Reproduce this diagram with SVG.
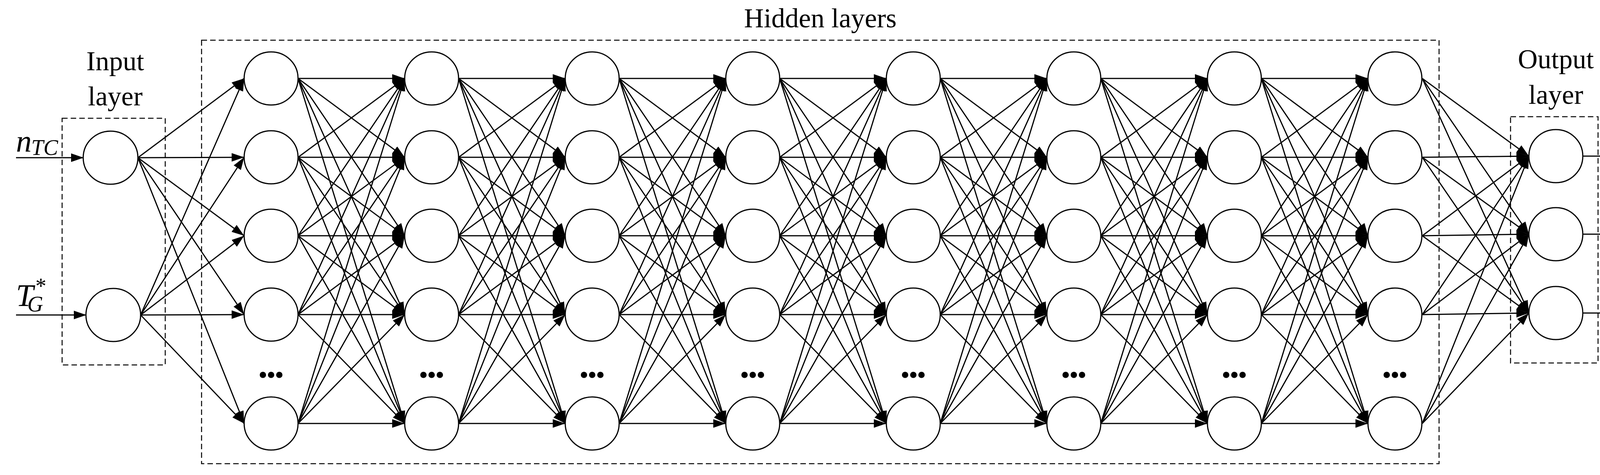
<svg xmlns="http://www.w3.org/2000/svg" xmlns:xlink="http://www.w3.org/1999/xlink" width="4334" height="1217" viewBox="0 0 4334 1217">
<style>
.n{fill:#fff;stroke:#000;stroke-width:3}
.c line{stroke:#000;stroke-width:3;marker-end:url(#ah)}
.box{fill:none;stroke:#000;stroke-width:2.5;stroke-dasharray:14 8}
.t{font-family:"Liberation Serif",serif;font-size:70px;fill:#000}
.i{font-family:"Liberation Serif",serif;font-style:italic;fill:#000}
.d{font-family:"Liberation Serif",serif;font-size:60px;font-weight:bold;fill:#000}
</style>
<defs>
<marker id="ah" markerUnits="userSpaceOnUse" markerWidth="34" markerHeight="24" refX="32" refY="11" orient="auto"><path d="M0,0 L32,11 L0,22 z" fill="#000"/></marker>
<g id="tr" stroke="#000" stroke-width="3" marker-end="url(#ah)">
<line x1="763" y1="201" x2="1036" y2="201"/><line x1="763" y1="201" x2="1036" y2="403"/><line x1="763" y1="201" x2="1036" y2="604"/><line x1="763" y1="201" x2="1036" y2="806"/><line x1="763" y1="201" x2="1036" y2="1085"/>
<line x1="763" y1="403" x2="1036" y2="201"/><line x1="763" y1="403" x2="1036" y2="403"/><line x1="763" y1="403" x2="1036" y2="604"/><line x1="763" y1="403" x2="1036" y2="806"/><line x1="763" y1="403" x2="1036" y2="1085"/>
<line x1="763" y1="604" x2="1036" y2="201"/><line x1="763" y1="604" x2="1036" y2="403"/><line x1="763" y1="604" x2="1036" y2="604"/><line x1="763" y1="604" x2="1036" y2="806"/><line x1="763" y1="604" x2="1036" y2="1085"/>
<line x1="763" y1="806" x2="1036" y2="201"/><line x1="763" y1="806" x2="1036" y2="403"/><line x1="763" y1="806" x2="1036" y2="604"/><line x1="763" y1="806" x2="1036" y2="806"/><line x1="763" y1="806" x2="1036" y2="1085"/>
<line x1="763" y1="1085" x2="1036" y2="201"/><line x1="763" y1="1085" x2="1036" y2="403"/><line x1="763" y1="1085" x2="1036" y2="604"/><line x1="763" y1="1085" x2="1036" y2="806"/><line x1="763" y1="1085" x2="1036" y2="1085"/>
</g>
</defs>
<rect width="4334" height="1217" fill="#fff"/>
<g id="frames">
<rect class="box" x="159" y="303" width="264" height="632"/>
<rect class="box" x="516" y="103" width="3168" height="1085"/>
<rect class="box" x="3867" y="299" width="224" height="631"/>
<text class="t" x="295" y="180" text-anchor="middle">Input</text>
<text class="t" x="295" y="270" text-anchor="middle">layer</text>
<text class="t" x="2100" y="70" text-anchor="middle">Hidden layers</text>
<text class="t" x="3983" y="175" text-anchor="middle">Output</text>
<text class="t" x="3983" y="266" text-anchor="middle">layer</text>
</g>
<g id="connectors" class="c">
<line x1="41" y1="404" x2="214" y2="404"/>
<line x1="41" y1="807" x2="221" y2="807"/>
<line x1="353" y1="404" x2="625" y2="201"/><line x1="353" y1="404" x2="625" y2="403"/><line x1="353" y1="404" x2="625" y2="604"/><line x1="353" y1="404" x2="625" y2="806"/><line x1="353" y1="404" x2="625" y2="1085"/>
<line x1="360" y1="807" x2="625" y2="201"/><line x1="360" y1="807" x2="625" y2="403"/><line x1="360" y1="807" x2="625" y2="604"/><line x1="360" y1="807" x2="625" y2="806"/><line x1="360" y1="807" x2="625" y2="1085"/>
<use xlink:href="#tr" href="#tr"/>
<use xlink:href="#tr" href="#tr" transform="translate(411,0)"/>
<use xlink:href="#tr" href="#tr" transform="translate(822,0)"/>
<use xlink:href="#tr" href="#tr" transform="translate(1233,0)"/>
<use xlink:href="#tr" href="#tr" transform="translate(1644,0)"/>
<use xlink:href="#tr" href="#tr" transform="translate(2055,0)"/>
<use xlink:href="#tr" href="#tr" transform="translate(2466,0)"/>
<line x1="3641" y1="201" x2="3914" y2="400"/><line x1="3641" y1="201" x2="3914" y2="600"/><line x1="3641" y1="201" x2="3914" y2="802"/>
<line x1="3641" y1="403" x2="3914" y2="400"/><line x1="3641" y1="403" x2="3914" y2="600"/><line x1="3641" y1="403" x2="3914" y2="802"/>
<line x1="3641" y1="604" x2="3914" y2="400"/><line x1="3641" y1="604" x2="3914" y2="600"/><line x1="3641" y1="604" x2="3914" y2="802"/>
<line x1="3641" y1="806" x2="3914" y2="400"/><line x1="3641" y1="806" x2="3914" y2="600"/><line x1="3641" y1="806" x2="3914" y2="802"/>
<line x1="3641" y1="1085" x2="3914" y2="400"/><line x1="3641" y1="1085" x2="3914" y2="600"/><line x1="3641" y1="1085" x2="3914" y2="802"/>
<line x1="4052" y1="400" x2="4309" y2="400"/>
<line x1="4052" y1="600" x2="4309" y2="600"/>
<line x1="4052" y1="802" x2="4309" y2="802"/>
</g>
<g id="in1"><ellipse class="n" cx="283" cy="404" rx="70" ry="68"/></g>
<g id="in2"><ellipse class="n" cx="290" cy="807" rx="70" ry="68"/></g>
<g id="h1-1"><ellipse class="n" cx="694" cy="201" rx="69" ry="68"/></g>
<g id="h1-2"><ellipse class="n" cx="694" cy="403" rx="69" ry="68"/></g>
<g id="h1-3"><ellipse class="n" cx="694" cy="604" rx="69" ry="68"/></g>
<g id="h1-4"><ellipse class="n" cx="694" cy="806" rx="69" ry="68"/></g>
<g id="h1-5"><ellipse class="n" cx="694" cy="1085" rx="69" ry="68"/></g>
<g id="h2-1"><ellipse class="n" cx="1105" cy="201" rx="69" ry="68"/></g>
<g id="h2-2"><ellipse class="n" cx="1105" cy="403" rx="69" ry="68"/></g>
<g id="h2-3"><ellipse class="n" cx="1105" cy="604" rx="69" ry="68"/></g>
<g id="h2-4"><ellipse class="n" cx="1105" cy="806" rx="69" ry="68"/></g>
<g id="h2-5"><ellipse class="n" cx="1105" cy="1085" rx="69" ry="68"/></g>
<g id="h3-1"><ellipse class="n" cx="1516" cy="201" rx="69" ry="68"/></g>
<g id="h3-2"><ellipse class="n" cx="1516" cy="403" rx="69" ry="68"/></g>
<g id="h3-3"><ellipse class="n" cx="1516" cy="604" rx="69" ry="68"/></g>
<g id="h3-4"><ellipse class="n" cx="1516" cy="806" rx="69" ry="68"/></g>
<g id="h3-5"><ellipse class="n" cx="1516" cy="1085" rx="69" ry="68"/></g>
<g id="h4-1"><ellipse class="n" cx="1927" cy="201" rx="69" ry="68"/></g>
<g id="h4-2"><ellipse class="n" cx="1927" cy="403" rx="69" ry="68"/></g>
<g id="h4-3"><ellipse class="n" cx="1927" cy="604" rx="69" ry="68"/></g>
<g id="h4-4"><ellipse class="n" cx="1927" cy="806" rx="69" ry="68"/></g>
<g id="h4-5"><ellipse class="n" cx="1927" cy="1085" rx="69" ry="68"/></g>
<g id="h5-1"><ellipse class="n" cx="2338" cy="201" rx="69" ry="68"/></g>
<g id="h5-2"><ellipse class="n" cx="2338" cy="403" rx="69" ry="68"/></g>
<g id="h5-3"><ellipse class="n" cx="2338" cy="604" rx="69" ry="68"/></g>
<g id="h5-4"><ellipse class="n" cx="2338" cy="806" rx="69" ry="68"/></g>
<g id="h5-5"><ellipse class="n" cx="2338" cy="1085" rx="69" ry="68"/></g>
<g id="h6-1"><ellipse class="n" cx="2749" cy="201" rx="69" ry="68"/></g>
<g id="h6-2"><ellipse class="n" cx="2749" cy="403" rx="69" ry="68"/></g>
<g id="h6-3"><ellipse class="n" cx="2749" cy="604" rx="69" ry="68"/></g>
<g id="h6-4"><ellipse class="n" cx="2749" cy="806" rx="69" ry="68"/></g>
<g id="h6-5"><ellipse class="n" cx="2749" cy="1085" rx="69" ry="68"/></g>
<g id="h7-1"><ellipse class="n" cx="3160" cy="201" rx="69" ry="68"/></g>
<g id="h7-2"><ellipse class="n" cx="3160" cy="403" rx="69" ry="68"/></g>
<g id="h7-3"><ellipse class="n" cx="3160" cy="604" rx="69" ry="68"/></g>
<g id="h7-4"><ellipse class="n" cx="3160" cy="806" rx="69" ry="68"/></g>
<g id="h7-5"><ellipse class="n" cx="3160" cy="1085" rx="69" ry="68"/></g>
<g id="h8-1"><ellipse class="n" cx="3571" cy="201" rx="69" ry="68"/></g>
<g id="h8-2"><ellipse class="n" cx="3571" cy="403" rx="69" ry="68"/></g>
<g id="h8-3"><ellipse class="n" cx="3571" cy="604" rx="69" ry="68"/></g>
<g id="h8-4"><ellipse class="n" cx="3571" cy="806" rx="69" ry="68"/></g>
<g id="h8-5"><ellipse class="n" cx="3571" cy="1085" rx="69" ry="68"/></g>
<g id="o1"><ellipse class="n" cx="3983" cy="400" rx="69" ry="68"/></g>
<g id="o2"><ellipse class="n" cx="3983" cy="600" rx="69" ry="68"/></g>
<g id="o3"><ellipse class="n" cx="3983" cy="802" rx="69" ry="68"/></g>
<g id="dots">
<text class="d" x="694" y="980" text-anchor="middle">•••</text>
<text class="d" x="1105" y="980" text-anchor="middle">•••</text>
<text class="d" x="1516" y="980" text-anchor="middle">•••</text>
<text class="d" x="1927" y="980" text-anchor="middle">•••</text>
<text class="d" x="2338" y="980" text-anchor="middle">•••</text>
<text class="d" x="2749" y="980" text-anchor="middle">•••</text>
<text class="d" x="3160" y="980" text-anchor="middle">•••</text>
<text class="d" x="3571" y="980" text-anchor="middle">•••</text>
</g>
<g id="labels">
<text class="i" x="41" y="388" font-size="80">n</text>
<text class="i" x="80" y="397" font-size="56">TC</text>
<text class="i" x="41" y="784" font-size="80">T</text>
<text class="i" x="70" y="798" font-size="56">G</text>
<text class="i" x="88" y="752" font-size="56">*</text>
<text class="i" x="4205" y="378" font-size="80">y</text>
<text class="i" x="4244" y="388" font-size="56" font-style="normal">1</text>
<text class="i" x="4205" y="578" font-size="80">y</text>
<text class="i" x="4244" y="588" font-size="56" font-style="normal">2</text>
<text class="i" x="4205" y="780" font-size="80">y</text>
<text class="i" x="4244" y="790" font-size="56" font-style="normal">3</text>
</g>
</svg>
